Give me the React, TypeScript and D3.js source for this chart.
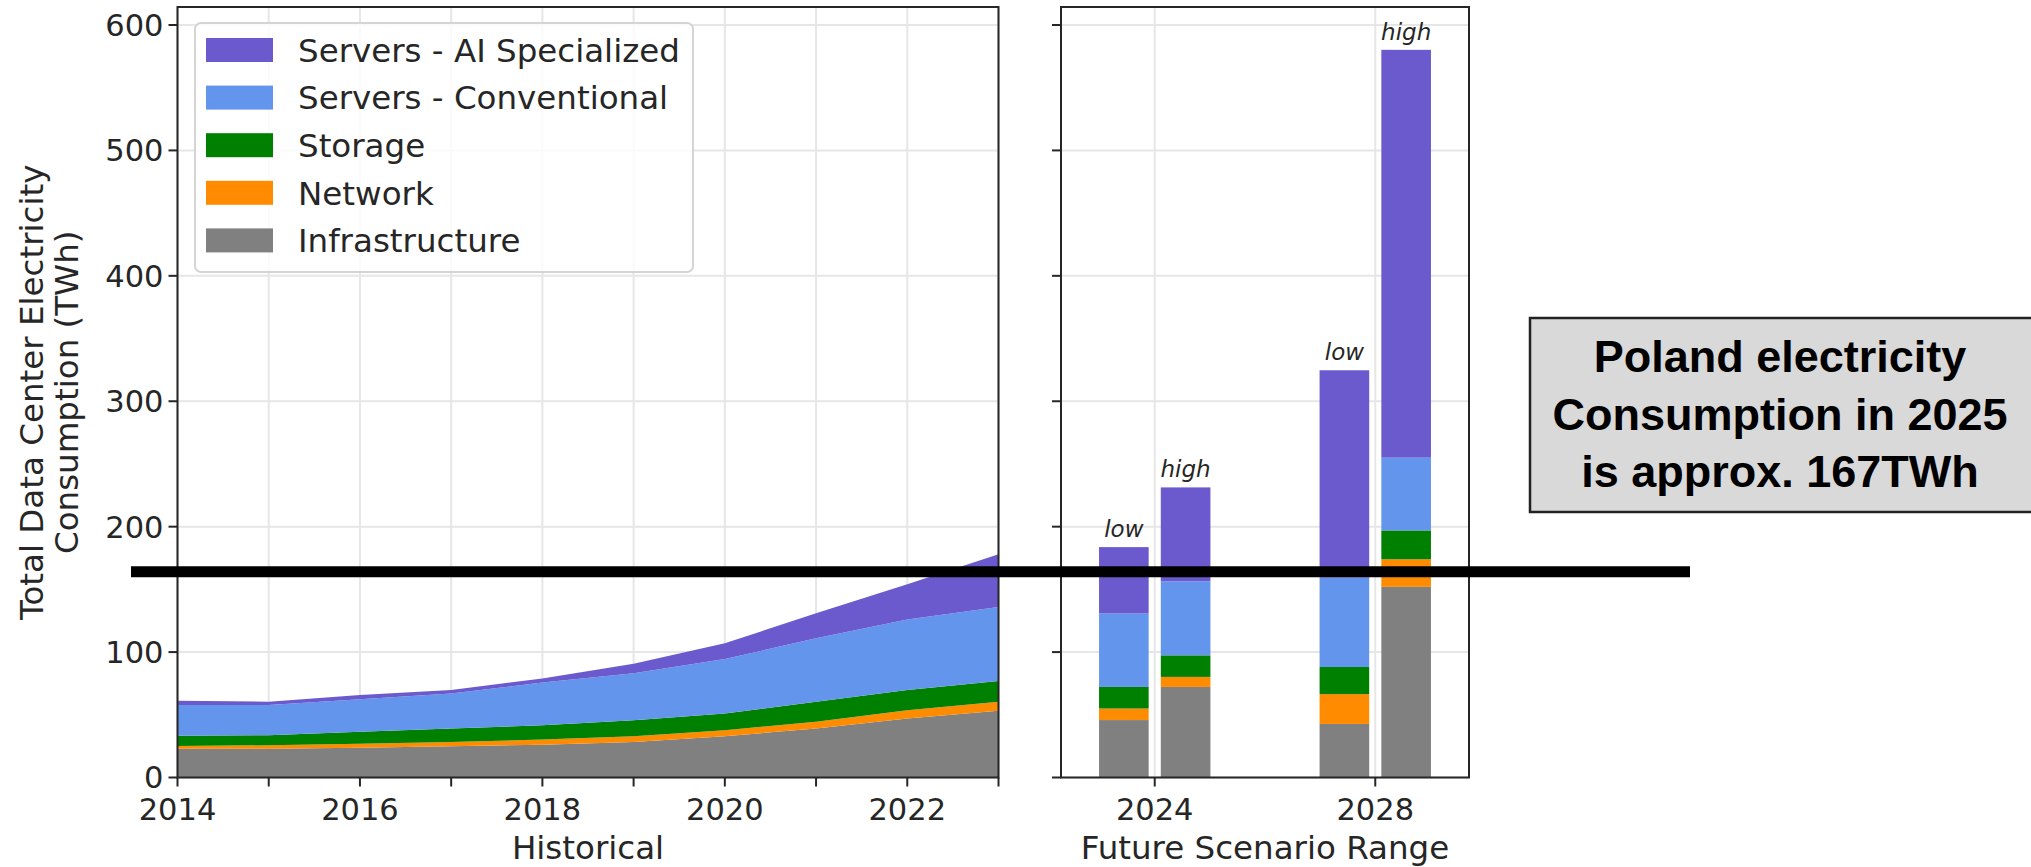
import React from "react";
import * as d3 from "d3";

// historical stack, TWh per year
const years = [2014, 2015, 2016, 2017, 2018, 2019, 2020, 2021, 2022, 2023];
const infrastructure = [23, 23, 23.8, 24.9, 26.2, 28.3, 32.9, 39, 47, 53.2];
const network = [2.1, 2.7, 3.2, 3.4, 4, 4.6, 4.8, 5.4, 6.7, 7.2];
const storage = [8.1, 8, 9.4, 10.7, 11.5, 12.8, 13.3, 16, 16.1, 16.6];
const conventional = [24.6, 24.1, 25.9, 28, 34, 37.5, 43.4, 50.6, 56.2, 59];
const aiSpecialized = [3.4, 2.6, 3.5, 2.8, 3.3, 7.4, 12.6, 20, 28, 42];

// future scenarios
const scenarioYear = [2024, 2024, 2028, 2028];
const scenarioCase = ["low", "high", "low", "high"];
const scInfrastructure = [45.8, 72.2, 42.7, 152];
const scNetwork = [9.2, 8, 23.8, 22];
const scStorage = [17.2, 17.2, 21.6, 23];
const scConventional = [58.6, 59, 71.4, 58];
const scAI = [52.9, 74.9, 165.2, 325.2];

const keys = ["infra", "network", "storage", "conv", "ai"];
const colors = {
  infra: "#808080",
  network: "#ff8c00",
  storage: "#008000",
  conv: "#6495ed",
  ai: "#6a5acd",
};
const legendLabels = [
  ["ai", "Servers - AI Specialized"],
  ["conv", "Servers - Conventional"],
  ["storage", "Storage"],
  ["network", "Network"],
  ["infra", "Infrastructure"],
];

const yTicks = [0, 100, 200, 300, 400, 500, 600];
const histLabelYears = [2014, 2016, 2018, 2020, 2022];
const scenarioTicks = [2024, 2028];
const polandLine = 164;
const boxLines = ["Poland electricity", "Consumption in 2025", "is approx. 167TWh"];

const font = "DejaVu Sans, sans-serif";
const W = 2031;
const H = 867;
const top = 7;
const bottom = 777.5;

export default function App() {
  const y = d3.scaleLinear().domain([0, 600]).range([bottom, 25]);
  const xH = d3.scaleLinear().domain([2014, 2023]).range([177.5, 998.5]);
  const xS = d3.scaleLinear().domain([2022.3, 2029.7]).range([1061, 1469]);

  const histRows = years.map((yr, i) => ({
    year: yr,
    infra: infrastructure[i],
    network: network[i],
    storage: storage[i],
    conv: conventional[i],
    ai: aiSpecialized[i],
  }));
  const scRows = scenarioYear.map((yr, i) => ({
    year: yr,
    kase: scenarioCase[i],
    infra: scInfrastructure[i],
    network: scNetwork[i],
    storage: scStorage[i],
    conv: scConventional[i],
    ai: scAI[i],
  }));

  const stack = d3.stack().keys(keys);
  const histSeries = stack(histRows as any);
  const scSeries = stack(scRows as any);

  const area = d3
    .area<any>()
    .x((d) => xH(d.data.year))
    .y0((d) => y(d[0]))
    .y1((d) => y(d[1]));

  const barW = xS(2024.9) - xS(2024);
  const barX = (r: any) =>
    xS(r.year + (r.kase === "low" ? -0.56 : 0.56)) - barW / 2;

  const gridColor = "#e6e6e6";
  const spine = "#262626";

  const panelFrame = (x0: number, x1: number) => (
    <rect x={x0} y={top} width={x1 - x0} height={bottom - top} fill="none" stroke={spine} strokeWidth={2} />
  );

  return (
    <svg width={W} height={H} style={{ position: "absolute", left: 0, top: 0, background: "#fff" }} fontFamily={font}>
      {/* grids */}
      <g stroke={gridColor} strokeWidth={2}>
        {yTicks.map((t) => (
          <line key={"gh" + t} x1={xH(2014)} x2={xH(2023)} y1={y(t)} y2={y(t)} />
        ))}
        {years.map((yr) => (
          <line key={"gv" + yr} x1={xH(yr)} x2={xH(yr)} y1={top} y2={bottom} />
        ))}
        {yTicks.map((t) => (
          <line key={"sh" + t} x1={xS.range()[0]} x2={xS.range()[1]} y1={y(t)} y2={y(t)} />
        ))}
        {scenarioTicks.map((yr) => (
          <line key={"sv" + yr} x1={xS(yr)} x2={xS(yr)} y1={top} y2={bottom} />
        ))}
      </g>

      {/* historical stack */}
      {histSeries.map((s: any) => (
        <path key={s.key} d={area(s) || ""} fill={(colors as any)[s.key]} />
      ))}

      {/* scenario bars */}
      {scSeries.map((s: any) =>
        s.map((d: any, i: number) => (
          <rect
            key={s.key + i}
            x={barX(d.data)}
            width={barW}
            y={y(d[1])}
            height={y(d[0]) - y(d[1])}
            fill={(colors as any)[s.key]}
          />
        ))
      )}
      {scRows.map((r, i) => {
        const total = r.infra + r.network + r.storage + r.conv + r.ai;
        return (
          <text
            key={"lab" + i}
            x={barX(r) + barW / 2}
            y={y(total) - 10}
            textAnchor="middle"
            fontSize={23}
            fontStyle="italic"
            fill="#262626"
          >
            {r.kase}
          </text>
        );
      })}

      {panelFrame(xH(2014), xH(2023))}
      {panelFrame(xS.range()[0], xS.range()[1])}

      {/* y ticks */}
      {yTicks.map((t) => (
        <g key={"yt" + t}>
          <line x1={xH(2014) - 9} x2={xH(2014)} y1={y(t)} y2={y(t)} stroke={spine} strokeWidth={2} />
          <text x={xH(2014) - 14} y={y(t)} dy="0.36em" textAnchor="end" fontSize={30.5} fill="#262626">
            {t}
          </text>
          <line x1={xS.range()[0] - 9} x2={xS.range()[0]} y1={y(t)} y2={y(t)} stroke={spine} strokeWidth={2} />
        </g>
      ))}

      {/* x ticks historical */}
      {years.map((yr) => (
        <line key={"xt" + yr} x1={xH(yr)} x2={xH(yr)} y1={bottom} y2={bottom + 9} stroke={spine} strokeWidth={2} />
      ))}
      {histLabelYears.map((yr) => (
        <text key={"xl" + yr} x={xH(yr)} y={820} textAnchor="middle" fontSize={30.5} fill="#262626">
          {yr}
        </text>
      ))}
      {scenarioTicks.map((yr) => (
        <g key={"st" + yr}>
          <line x1={xS(yr)} x2={xS(yr)} y1={bottom} y2={bottom + 9} stroke={spine} strokeWidth={2} />
          <text x={xS(yr)} y={820} textAnchor="middle" fontSize={30.5} fill="#262626">
            {yr}
          </text>
        </g>
      ))}

      {/* axis titles */}
      <text x={(xH(2014) + xH(2023)) / 2} y={859} textAnchor="middle" fontSize={32.5} fill="#262626">
        Historical
      </text>
      <text x={(xS.range()[0] + xS.range()[1]) / 2} y={859} textAnchor="middle" fontSize={32.5} fill="#262626">
        Future Scenario Range
      </text>
      <g transform={`translate(0, ${(top + bottom) / 2}) rotate(-90)`}>
        <text x={0} y={43} textAnchor="middle" fontSize={32.5} fill="#262626">
          Total Data Center Electricity
        </text>
        <text x={0} y={78} textAnchor="middle" fontSize={32.5} fill="#262626">
          Consumption (TWh)
        </text>
      </g>

      {/* legend */}
      <rect x={195} y={23} width={498} height={249} rx={6} fill="#fff" fillOpacity={0.8} stroke="#d4d4d4" strokeWidth={2} />
      {legendLabels.map(([k, label], i) => {
        const cy = 50 + i * 47.6;
        return (
          <g key={k}>
            <rect x={206} y={cy - 12} width={67} height={24} fill={(colors as any)[k]} />
            <text x={298} y={cy} dy="0.36em" fontSize={32.5} fill="#262626">
              {label}
            </text>
          </g>
        );
      })}

      {/* Poland reference line */}
      <line x1={131} x2={1690} y1={y(polandLine)} y2={y(polandLine)} stroke="#000" strokeWidth={11} />

      {/* annotation box */}
      <rect x={1530} y={318} width={W - 1530 + 4} height={194} fill="#d9d9d9" stroke="#222" strokeWidth={2.5} />
      {boxLines.map((line, i) => (
        <text
          key={i}
          x={1780}
          y={372 + i * 57.5}
          textAnchor="middle"
          fontSize={45}
          fontWeight="bold"
          fontFamily="Liberation Sans, Arial, sans-serif"
          fill="#000"
        >
          {line}
        </text>
      ))}
    </svg>
  );
}
